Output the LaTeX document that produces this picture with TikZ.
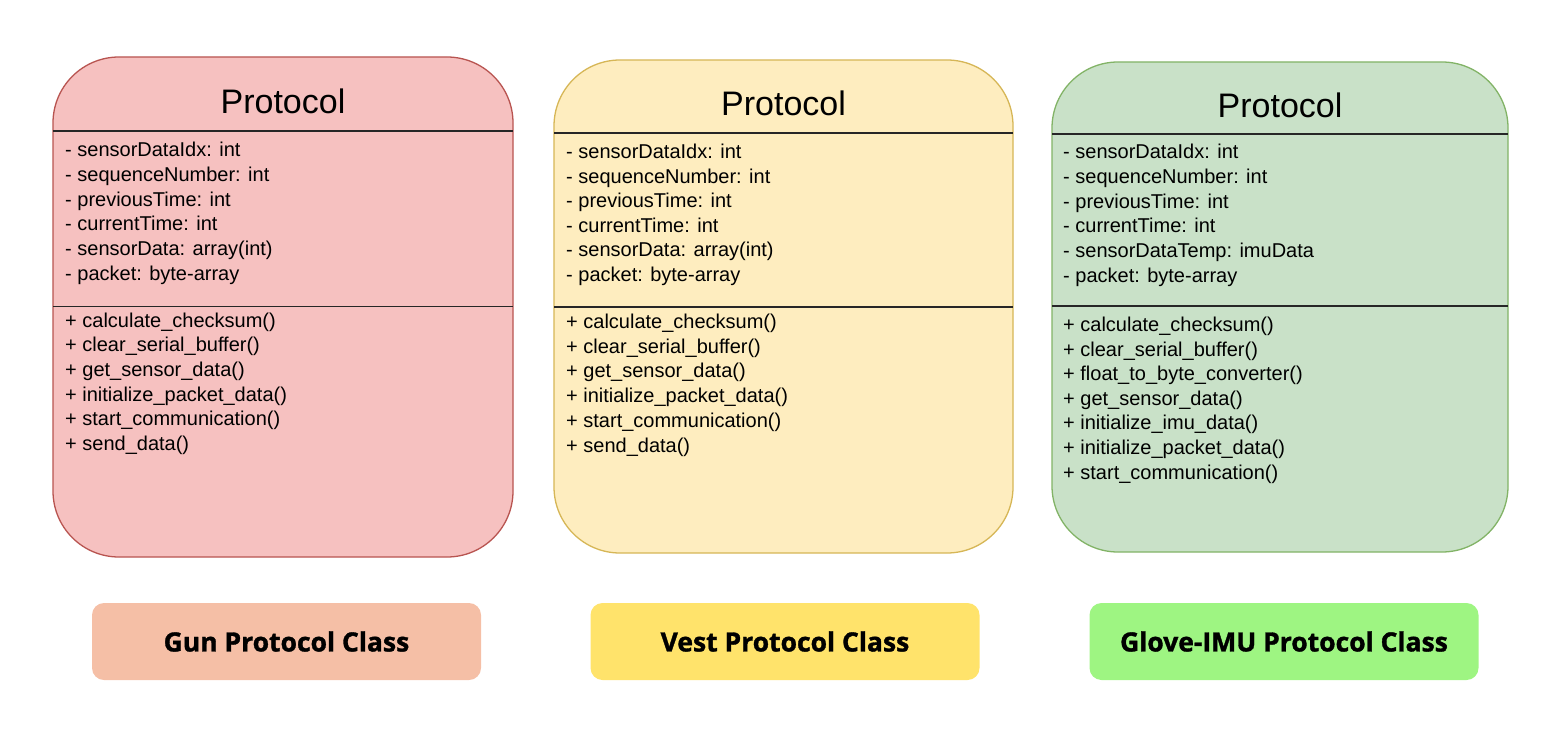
\documentclass[tikz,border=0pt]{standalone}
\usepackage{fontspec}
\setmainfont{Liberation Sans}
\newfontfamily\labfont{Open Sans}[BoldFeatures={FakeBold=1.3}]
\definecolor{redfill}{HTML}{F6C1C0}
\definecolor{redline}{HTML}{B85450}
\definecolor{yelfill}{HTML}{FEEDBF}
\definecolor{yelline}{HTML}{D6B656}
\definecolor{grnfill}{HTML}{C9E1C8}
\definecolor{grnline}{HTML}{82B366}
\definecolor{lab1}{HTML}{F5BFA6}
\definecolor{lab2}{HTML}{FFE36B}
\definecolor{lab3}{HTML}{9EF582}
\tikzset{
  classbox/.style={draw, line width=1.3pt, rounded corners=66pt, inner sep=0pt, outer sep=0pt},
  divider/.style={draw=black!85, line width=1.4pt},
  titletext/.style={font=\fontsize{34}{40}\selectfont, inner sep=0pt},
  membertext/.style={font=\fontsize{20}{24}\selectfont, inner sep=0pt, anchor=base west},
  labelbox/.style={rounded corners=12pt, minimum width=389pt, minimum height=77pt, inner sep=0pt,
    font=\labfont\bfseries\fontsize{26.5}{32}\selectfont}
}
\begin{document}
\begin{tikzpicture}[x=1pt,y=-1pt]
\useasboundingbox (0,0) rectangle (1562,730);
% boxes
\node[classbox, draw=redline, fill=redfill, minimum width=460pt, minimum height=500pt] (b1) at (283,307) {};
\node[classbox, draw=yelline, fill=yelfill, minimum width=459pt, minimum height=493pt] (b2) at (783.5,306.5) {};
\node[classbox, draw=grnline, fill=grnfill, minimum width=456pt, minimum height=490pt] (b3) at (1280,307) {};
% dividers
\draw[divider] (b1.west |- 0,131) -- (b1.east |- 0,131);
\draw[divider] (b1.west |- 0,306.5) -- (b1.east |- 0,306.5);
\draw[divider] (b2.west |- 0,133) -- (b2.east |- 0,133);
\draw[divider] (b2.west |- 0,307) -- (b2.east |- 0,307);
\draw[divider] (b3.west |- 0,134) -- (b3.east |- 0,134);
\draw[divider] (b3.west |- 0,306) -- (b3.east |- 0,306);
% titles
\node[titletext] (t1) at (283,101) {Protocol};
\node[titletext] (t2) at (783.5,103) {Protocol};
\node[titletext] (t3) at (1280,105) {Protocol};
% box 1 members
\foreach \t [count=\i] in {- sensorDataIdx: int, - sequenceNumber: int, - previousTime: int, - currentTime: int, - sensorData: array(int), - packet: byte-array}
  \node[membertext] (b1a\i) at (65,{157+24.6*(\i-1)}) {\t};
\foreach \t [count=\i] in {+ calculate\_checksum(), + clear\_serial\_buffer(), + get\_sensor\_data(), + initialize\_packet\_data(), + start\_communication(), + send\_data()}
  \node[membertext] (b1m\i) at (65,{327+24.7*(\i-1)}) {\t};
% box 2 members
\foreach \t [count=\i] in {- sensorDataIdx: int, - sequenceNumber: int, - previousTime: int, - currentTime: int, - sensorData: array(int), - packet: byte-array}
  \node[membertext] (b2a\i) at (566,{158.5+24.6*(\i-1)}) {\t};
\foreach \t [count=\i] in {+ calculate\_checksum(), + clear\_serial\_buffer(), + get\_sensor\_data(), + initialize\_packet\_data(), + start\_communication(), + send\_data()}
  \node[membertext] (b2m\i) at (566,{328.5+24.7*(\i-1)}) {\t};
% box 3 members
\foreach \t [count=\i] in {- sensorDataIdx: int, - sequenceNumber: int, - previousTime: int, - currentTime: int, - sensorDataTemp: imuData, - packet: byte-array}
  \node[membertext] (b3a\i) at (1063,{159+24.6*(\i-1)}) {\t};
\foreach \t [count=\i] in {+ calculate\_checksum(), + clear\_serial\_buffer(), + float\_to\_byte\_converter(), + get\_sensor\_data(), + initialize\_imu\_data(), + initialize\_packet\_data(), + start\_communication()}
  \node[membertext] (b3m\i) at (1063,{331.5+24.6*(\i-1)}) {\t};
% labels
\node[labelbox, fill=lab1] (l1) at (286.5,641.5) {Gun Protocol Class};
\node[labelbox, fill=lab2] (l2) at (785,641.5) {Vest Protocol Class};
\node[labelbox, fill=lab3] (l3) at (1284,641.5) {Glove-IMU Protocol Class};
\end{tikzpicture}
\end{document}
